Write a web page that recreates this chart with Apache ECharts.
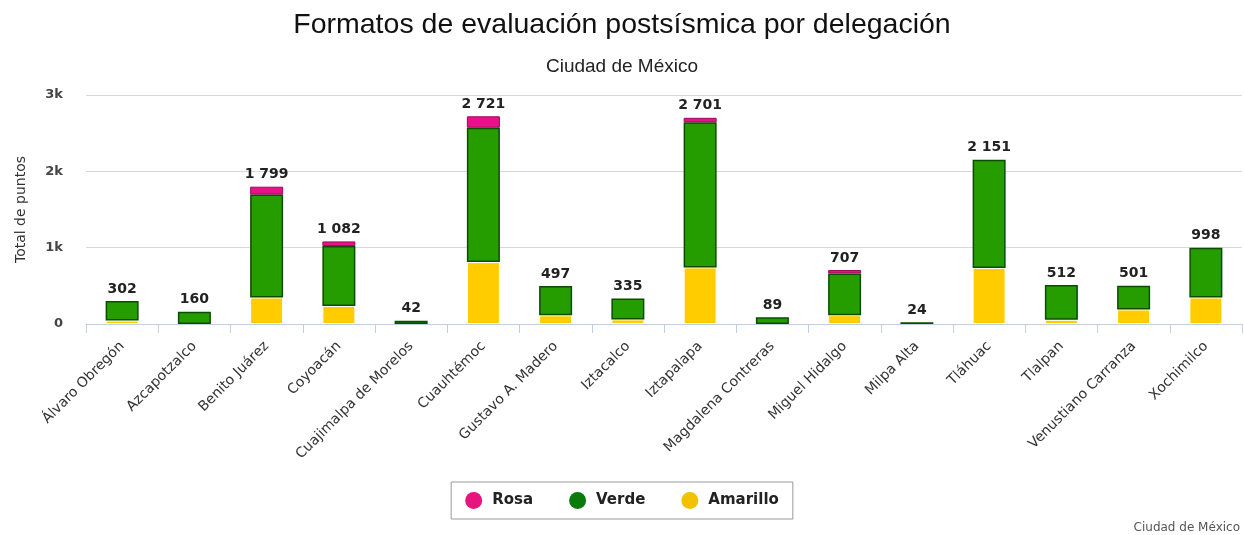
<!DOCTYPE html>
<html>
<head>
<meta charset="utf-8">
<script src="https://cdn.jsdelivr.net/npm/echarts@6/dist/echarts.min.js"></script>
<style>
html,body{margin:0;padding:0;background:#fff;}
#chart{width:1244px;height:535px;}
</style>
</head>
<body>
<div id="chart"></div>
<script>
var categories = ['Álvaro Obregón','Azcapotzalco','Benito Juárez','Coyoacán','Cuajimalpa de Morelos','Cuauhtémoc','Gustavo A. Madero','Iztacalco','Iztapalapa','Magdalena Contreras','Miguel Hidalgo','Milpa Alta','Tláhuac','Tlalpan','Venustiano Carranza','Xochimilco'];
var amarillo = [45, 0, 347, 236, 0, 811, 114, 60, 741, 0, 116, 0, 735, 55, 190, 347];
var verde    = [257, 160, 1348, 785, 42, 1760, 383, 275, 1902, 89, 546, 24, 1416, 457, 311, 651];
var rosa     = [0, 0, 104, 61, 0, 150, 0, 0, 58, 0, 45, 0, 0, 0, 0, 0];
var yTicks = [0, 1000, 2000, 3000];

var totals = categories.map(function(_, i){ return amarillo[i] + verde[i] + rosa[i]; });
function fmt(n){ return String(n).replace(/\B(?=(\d{3})+(?!\d))/g, ' '); }
function items(arr){
  return arr.map(function(v){ return v === 0 ? {value: 0, itemStyle: {borderWidth: 0, color: 'rgba(0,0,0,0)'}} : v; });
}

var chart = echarts.init(document.getElementById('chart'));
var barW = 33;
chart.setOption({
  animation: false,
  title: [
    {text: 'Formatos de evaluación postsísmica por delegación', left: 'center', top: 6,
     textStyle: {fontFamily: 'Liberation Sans', fontSize: 28.5, fontWeight: 'normal', color: '#111'}},
    {text: 'Ciudad de México', left: 'center', top: 52,
     textStyle: {fontFamily: 'Liberation Sans', fontSize: 19, fontWeight: 'normal', color: '#222'}},
    {text: 'Ciudad de México', right: 4, bottom: 1, padding: 0,
     textStyle: {fontFamily: 'DejaVu Sans', fontSize: 12, fontWeight: 'normal', color: '#555'}}
  ],
  legend: {
    data: [
      {name: 'Rosa', itemStyle: {color: '#e5147f', borderWidth: 0}},
      {name: 'Verde', itemStyle: {color: '#0a7a0a', borderWidth: 0}},
      {name: 'Amarillo', itemStyle: {color: '#f2c200', borderWidth: 0}}
    ],
    left: 'center', top: 482,
    icon: 'circle', itemWidth: 17, itemHeight: 17, itemGap: 36,
    padding: [10, 14, 10, 14],
    borderColor: '#999', borderWidth: 1,
    textStyle: {fontFamily: 'DejaVu Sans', fontSize: 15, fontWeight: 'bold', color: '#222', padding: [0, 0, 0, 5]}
  },
  grid: {left: 86, right: 2, top: 95, bottom: 211},
  xAxis: {
    type: 'category', data: categories,
    axisLine: {lineStyle: {color: '#c0d0e0', width: 1}},
    axisTick: {show: true, length: 9, alignWithLabel: false, lineStyle: {color: '#c0d0e0'}},
    axisLabel: {rotate: 45, interval: 0, fontFamily: 'DejaVu Sans', fontSize: 14, color: '#333', margin: 20}
  },
  yAxis: {
    type: 'value', min: 0, max: 3000, interval: 1000,
    name: 'Total de puntos', nameLocation: 'middle', nameGap: 58,
    nameTextStyle: {fontFamily: 'DejaVu Sans', fontSize: 14, color: '#333'},
    axisLine: {show: false}, axisTick: {show: false},
    splitLine: {lineStyle: {color: '#d8d8d8', width: 1}},
    axisLabel: {fontFamily: 'DejaVu Sans', fontSize: 13, fontWeight: 'bold', color: '#444', margin: 23,
      padding: [6, 0, 0, 0],
      formatter: function(v){ return yTicks.indexOf(v) > 0 ? (v/1000) + 'k' : '0'; }}
  },
  series: [
    {name: 'Amarillo', type: 'bar', stack: 't', barWidth: barW, data: items(amarillo),
     itemStyle: {color: '#ffcc00', borderColor: '#ffffff', borderWidth: 1},
     emphasis: {disabled: true}},
    {name: 'Verde', type: 'bar', stack: 't', barWidth: barW, data: items(verde),
     itemStyle: {color: '#259c00', borderColor: '#0b4d00', borderWidth: 1.5},
     emphasis: {disabled: true}},
    {name: 'Rosa', type: 'bar', stack: 't', barWidth: barW, data: items(rosa),
     itemStyle: {color: '#e8118a', borderColor: '#9c0a55', borderWidth: 1},
     emphasis: {disabled: true},
     label: {show: true, position: 'top', distance: 5,
       fontFamily: 'DejaVu Sans', fontSize: 14, fontWeight: 'bold', color: '#222',
       formatter: function(p){ return fmt(totals[p.dataIndex]); }}}
  ]
});
</script>
</body>
</html>
